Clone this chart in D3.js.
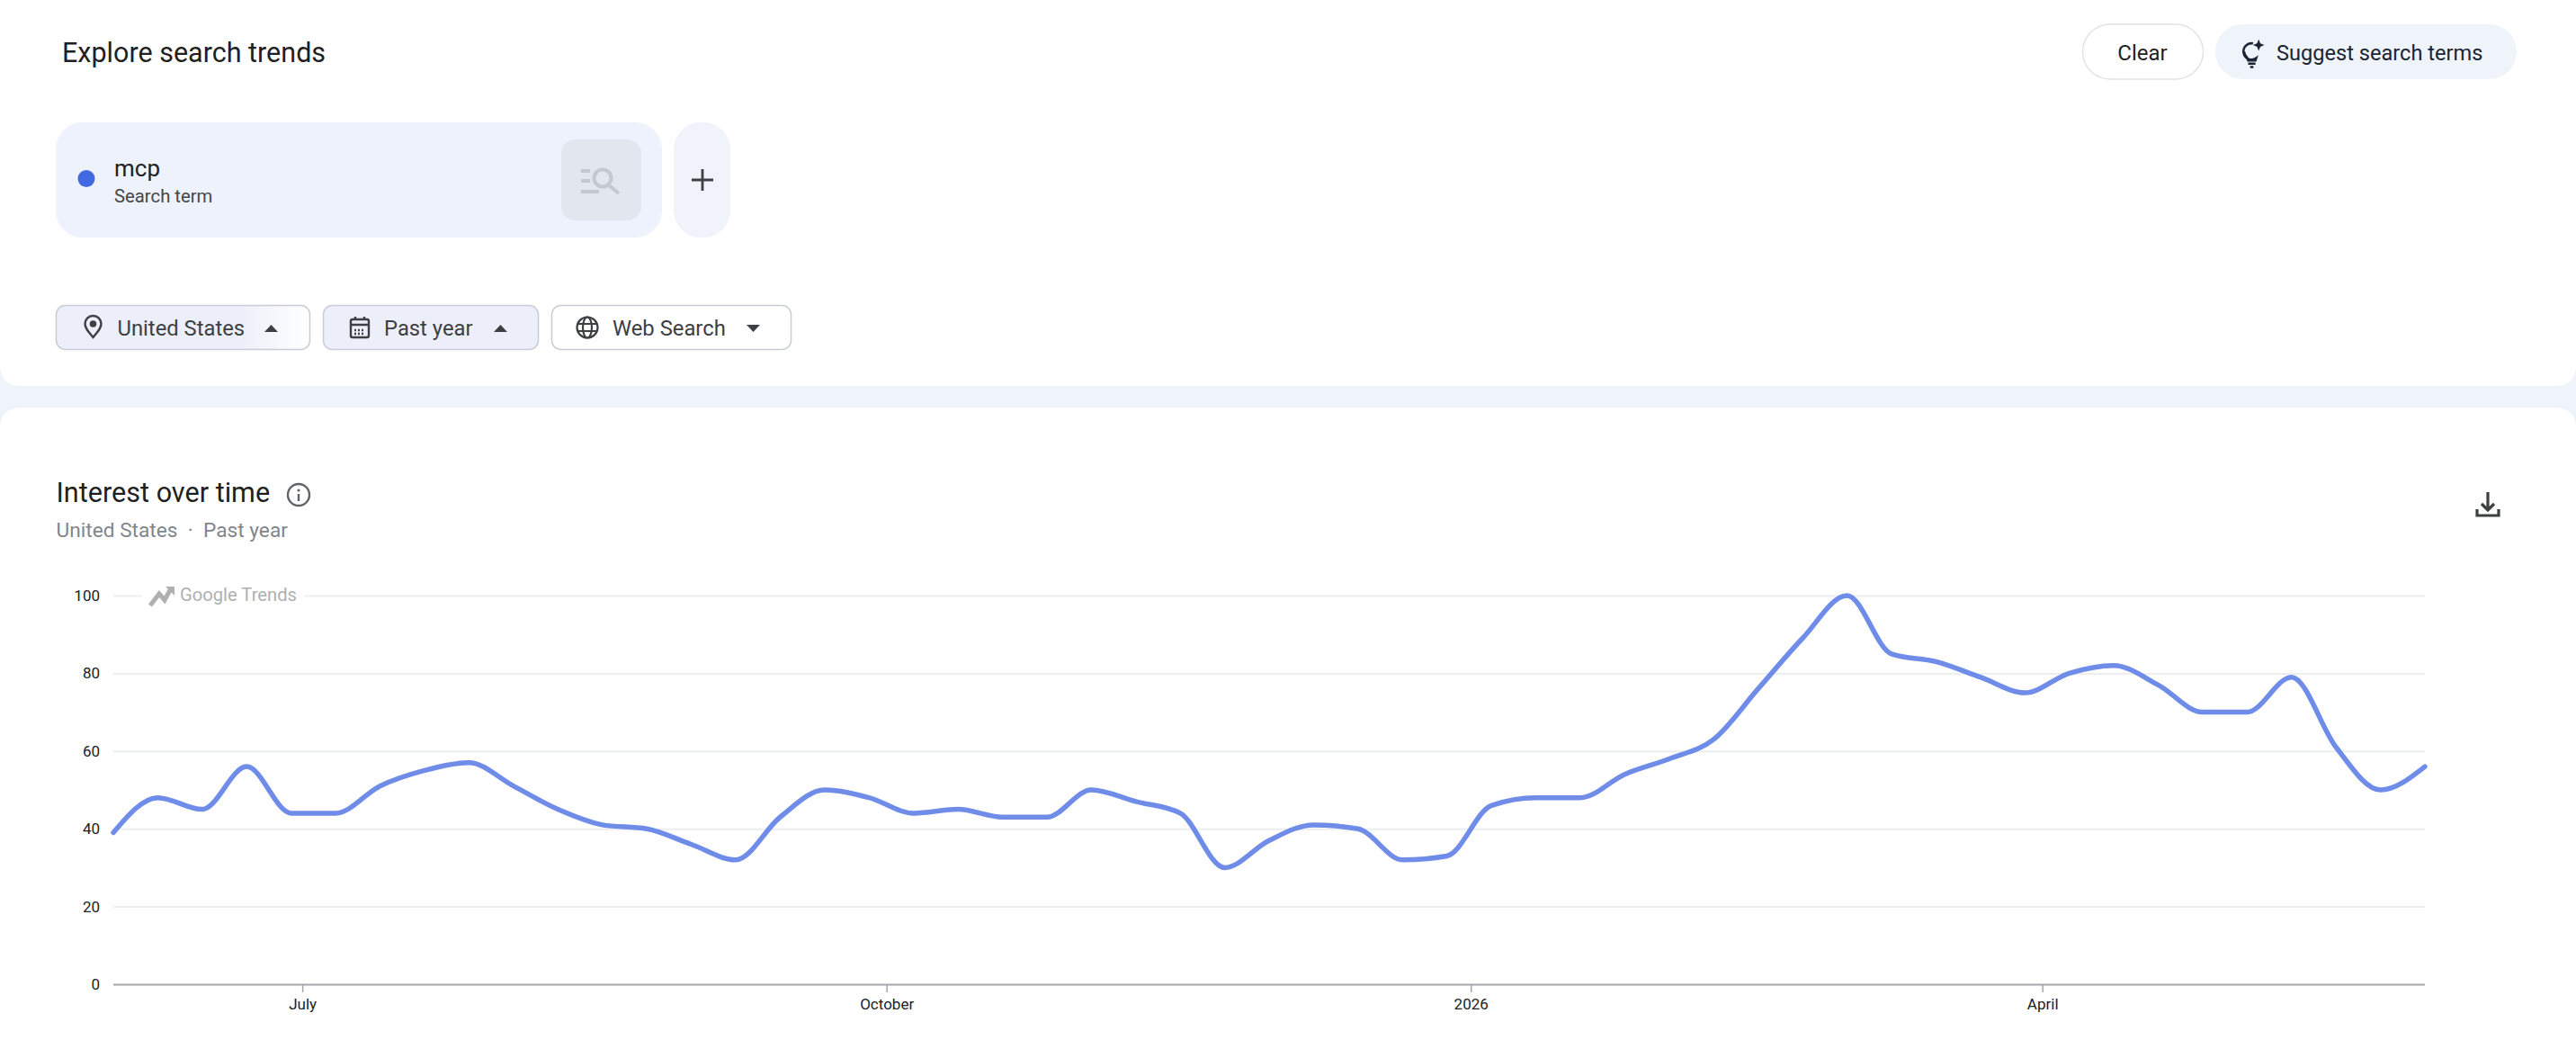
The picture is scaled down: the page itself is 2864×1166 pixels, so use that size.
<!DOCTYPE html>
<html>
<head>
<meta charset="utf-8">
<script src="https://cdn.jsdelivr.net/npm/d3@7"></script>
<style>
html,body{margin:0;padding:0;background:#fff;overflow:hidden}
svg{display:block}
text{font-family:Roboto,"Open Sans",sans-serif}
</style>
</head>
<body>
<div id="chart"></div>
<script>
const seriesName = "mcp";
const weekStart = "2025-06-01";
const weekEnd = "2026-05-31";
const interest = [39,48,45,56,44,44,51,55,57,51,45,41,40,36,32,43,50,48,44,45,43,43,50,47,44,30,37,41,40,32,33,46,48,48,54,58,63,76,89,100,85,83,79,75,80,82,77,70,70,79,61,50,56];
const yTicks = [0,20,40,60,80,100];
const xTickDates = ["2025-07-01","2025-10-01","2026-01-01","2026-04-01"];
const xTickLabels = ["July","October","2026","April"];

const parse = d3.utcParse("%Y-%m-%d");
const W = 2864, H = 1166;
const svg = d3.select("#chart").append("svg").attr("width",W).attr("height",H).attr("viewBox",`0 0 ${W} ${H}`);
const defs = svg.append("defs");
const grad = defs.append("linearGradient").attr("id","fade").attr("x1","0").attr("x2","1").attr("y1","0").attr("y2","0");
grad.append("stop").attr("offset","0.72").attr("stop-color","#eceffa");
grad.append("stop").attr("offset","1").attr("stop-color","#ffffff");

// page panels
svg.append("rect").attr("width",W).attr("height",H).attr("fill","#eff3fa");
svg.append("path").attr("d",`M0 0H${W}V405Q${W} 429 ${W-24} 429H24Q0 429 0 405Z`).attr("fill","#fff");
svg.append("path").attr("d",`M0 ${H}V477Q0 453 24 453H${W-24}Q${W} 453 ${W} 477V${H}Z`).attr("fill","#fff");

function label(t,x,y,size,color,opts={}){
  return svg.append("text").text(t).attr("x",x).attr("y",y).attr("font-size",size).attr("fill",color)
    .attr("text-anchor",opts.anchor||"start").attr("font-weight",opts.weight||400);
}
function box(x,y,w,h,r,fill,stroke){
  return svg.append("rect").attr("x",x).attr("y",y).attr("width",w).attr("height",h).attr("rx",r)
    .attr("fill",fill).attr("stroke",stroke||"none").attr("stroke-width",stroke?1.5:0);
}

// header
label("Explore search trends",69,69,30.5,"#1f1f1f");
box(2315.5,27,134,61,30.5,"#fff","#e1e3e6");
label("Clear",2382,67,24,"#1f1f1f",{anchor:"middle"});
box(2463,27,335,61,30.5,"#eff3fa");
label("Suggest search terms",2531,67,23.6,"#1b2433");
const bulb = svg.append("g").attr("transform","translate(2504,60) scale(0.9)").attr("fill","none").attr("stroke","#1b2433").attr("stroke-width",2.8);
bulb.append("path").attr("d","M1 -13A10 10 0 1 0 5 5L4 8H-5L-6 5Q-10 1 -10 -3");
bulb.append("path").attr("d","M-5 12H4M-2.5 16H1.5");
bulb.append("path").attr("d","M8 -18L10 -13L15 -11L10 -9L8 -4L6 -9L1 -11L6 -13Z").attr("fill","#1b2433").attr("stroke","none");

// search term card
box(62,136,674,128,30,"#eef2fd");
svg.append("circle").attr("cx",96).attr("cy",198.5).attr("r",9.5).attr("fill","#4169e1");
label(seriesName,127,196,26,"#1f1f1f");
label("Search term",127,225,20.3,"#444746");
box(624,155,89,90,16,"#e2e6ef");
const si = svg.append("g").attr("transform","translate(667,200)").attr("fill","none").attr("stroke","#c4c8d0").attr("stroke-width",4);
si.append("path").attr("d","M-21 -10H-11M-21 1H-11M-21 13H-1");
si.append("circle").attr("cx",3).attr("cy",-2).attr("r",9.5);
si.append("path").attr("d","M10 6L21 15");
box(749,136,63,128,30,"#f0f3f9");
svg.append("path").attr("d","M781 188V212M769 200H793").attr("stroke","#3c4043").attr("stroke-width",2.8);

// filter chips
box(62.5,339.5,282,49,10,"url(#fade)","#c9ccd3");
box(359.5,339.5,239,49,10,"#eceffa","#c9ccd3");
box(613.5,339.5,266,49,10,"#fff","#c9ccd3");
label("United States",130.5,373,23.8,"#3c4043");
label("Past year",427,373,23.8,"#3c4043");
label("Web Search",681,373,23.8,"#3c4043");
svg.append("path").attr("d","M294 369L301.5 361L309 369Z M549 369L556.5 361L564 369Z").attr("fill","#3c4043");
svg.append("path").attr("d","M830 361L837.5 369L845 361Z").attr("fill","#3c4043");
const ic = "#3c4043";
const pin = svg.append("g").attr("transform","translate(103.5,364)").attr("fill","none").attr("stroke",ic).attr("stroke-width",2.4);
pin.append("path").attr("d","M0 11C-5 5 -9 1 -9 -4A9 9 0 0 1 9 -4C9 1 5 5 0 11Z");
pin.append("circle").attr("cy",-4).attr("r",2.6).attr("fill",ic);
const cal = svg.append("g").attr("transform","translate(400,364)").attr("fill","none").attr("stroke",ic).attr("stroke-width",2.4);
cal.append("rect").attr("x",-10).attr("y",-9).attr("width",20).attr("height",20).attr("rx",2);
cal.append("path").attr("d","M-10 -3H10M-5 -12V-8M5 -12V-8");
cal.append("path").attr("d","M-6 3H6M-6 7H6").attr("stroke-dasharray","2 2");
const globe = svg.append("g").attr("transform","translate(653,364)").attr("fill","none").attr("stroke",ic).attr("stroke-width",2.2);
globe.append("circle").attr("r",11.5);
globe.append("ellipse").attr("rx",5).attr("ry",11.5);
globe.append("path").attr("d","M-11 -4H11M-11 4H11");

// panel header
label("Interest over time",62.5,558,30.6,"#1f1f1f");
const info = svg.append("g").attr("transform","translate(332,550)");
info.append("circle").attr("r",12).attr("fill","none").attr("stroke","#5f6368").attr("stroke-width",2.4);
info.append("path").attr("d","M0 -1V7").attr("stroke","#5f6368").attr("stroke-width",2.4);
info.append("circle").attr("cy",-5).attr("r",1.6).attr("fill","#5f6368");
label("United States  ·  Past year",62.5,597,22.7,"#80868b").style("white-space","pre");
const dl = svg.append("g").attr("transform","translate(2766,561)").attr("fill","none").attr("stroke","#3c4043").attr("stroke-width",3.2);
dl.append("path").attr("d","M0 -14V6M-7 -1L0 6L7 -1");
dl.append("path").attr("d","M-12 5V12H12V5");

// chart
const plot = {left:126,right:2696,top:662,bottom:1094};
const x = d3.scaleUtc().domain([parse(weekStart),parse(weekEnd)]).range([plot.left,plot.right]);
const y = d3.scaleLinear().domain([0,100]).range([plot.bottom,plot.top]);
const dates = d3.utcWeek.range(parse(weekStart),d3.utcDay.offset(parse(weekEnd),1));
const points = interest.map((v,i)=>({date:dates[i],value:v}));

const gy = svg.append("g").attr("transform",`translate(${plot.left},0)`)
  .call(d3.axisLeft(y).tickValues(yTicks).tickSize(-(plot.right-plot.left)).tickPadding(15));
gy.select(".domain").remove();
gy.selectAll(".tick line").attr("stroke",d=>d===0?"#a4a7ab":"#eceef0").attr("stroke-width",2);
gy.selectAll(".tick text").attr("font-size",17).attr("fill","#202124").attr("font-family","Roboto");

const gx = svg.append("g").attr("transform",`translate(0,${plot.bottom})`)
  .call(d3.axisBottom(x).tickValues(xTickDates.map(parse)).tickSize(9).tickPadding(7).offset(-1.2)
    .tickFormat((d,i)=>xTickLabels[i]));
gx.select(".domain").remove();
gx.selectAll(".tick line").attr("stroke","#a4a7ab").attr("stroke-width",1.5);
gx.selectAll(".tick text").attr("font-size",17).attr("fill","#202124").attr("font-family","Roboto");

// Google Trends watermark
box(158,650,180,24,0,"#fff");
svg.append("path").attr("d","M167 673L177 660L183 667L190 654").attr("fill","none").attr("stroke","#b0b0b0").attr("stroke-width",5);
svg.append("path").attr("d","M184 652L194 652L194 662Z").attr("fill","#b0b0b0");
label("Google Trends",200,668,20.2,"#b0b0b0");

const line = d3.line().x(d=>x(d.date)).y(d=>y(d.value)).curve(d3.curveMonotoneX);
svg.append("path").datum(points).attr("d",line).attr("fill","none").attr("stroke","#6f8ce9")
  .attr("stroke-width",5.5).attr("stroke-linecap","round").attr("stroke-linejoin","round");
</script>
</body>
</html>
